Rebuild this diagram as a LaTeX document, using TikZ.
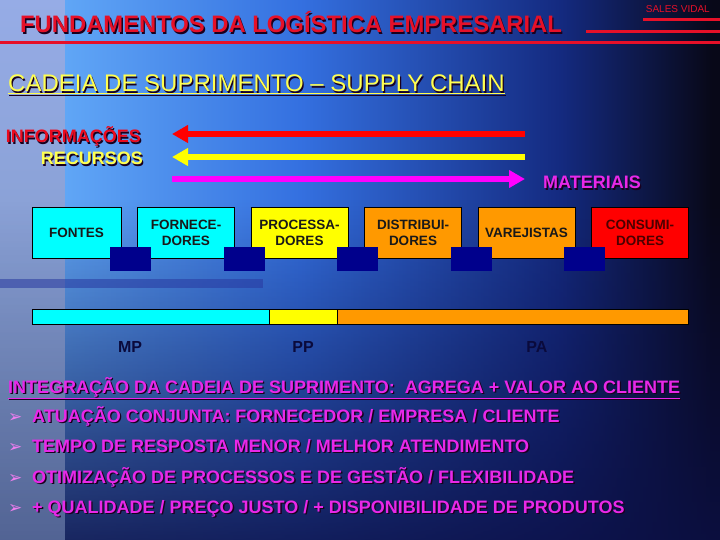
\documentclass[tikz,border=0pt]{standalone}
\usepackage{fontspec}
\setmainfont{Liberation Sans}
\newfontfamily\symfont{DejaVu Sans}
\usepackage{tikz}
\usetikzlibrary{calc, positioning, arrows.meta, fadings}
\usepackage{xcolor}
\definecolor{bgPanel}{RGB}{150, 172, 230}
\definecolor{bgPanelLow}{RGB}{120, 145, 190}
\definecolor{bgA}{RGB}{96, 166, 246}
\definecolor{bgB}{RGB}{52, 112, 224}
\definecolor{bgC}{RGB}{20, 42, 128}
\definecolor{bgD}{RGB}{8, 8, 24}
\definecolor{bgLow}{RGB}{12, 16, 70}
\definecolor{bandC}{RGB}{40, 56, 160}
\definecolor{titleRed}{RGB}{230, 16, 40}
\definecolor{shadowC}{RGB}{25, 0, 30}
\definecolor{capYellow}{RGB}{255, 255, 80}
\definecolor{infoRed}{RGB}{235, 10, 30}
\definecolor{textMagenta}{RGB}{232, 40, 232}
\definecolor{flowRed}{RGB}{255, 0, 0}
\definecolor{flowYellow}{RGB}{255, 255, 0}
\definecolor{flowMagenta}{RGB}{255, 0, 255}
\definecolor{boxCyan}{RGB}{0, 255, 255}
\definecolor{boxYellow}{RGB}{255, 255, 0}
\definecolor{boxOrange}{RGB}{255, 153, 0}
\definecolor{boxRed}{RGB}{255, 0, 0}
\definecolor{linkNavy}{RGB}{0, 0, 140}
\definecolor{labelNavy}{RGB}{10, 10, 60}
\newcommand{\shadowed}[2]{\rlap{\kern1.3pt\raisebox{-1.3pt}{\textcolor{shadowC}{#2}}}\textcolor{#1}{#2}}
\newcommand{\fsz}[1]{\fontsize{#1}{#1}\selectfont}

\begin{document}
\begin{tikzpicture}[x=1pt, y=-1pt, >=Stealth,
    box/.style={draw=black, line width=0.8pt, minimum width=97pt, minimum height=51pt,
                inner sep=0pt, outer sep=0pt, align=center,
                font=\fontsize{13.5}{16}\selectfont\bfseries, text=black!90},
    link/.style={fill=linkNavy, minimum width=41pt, minimum height=24pt, inner sep=0pt,
                 outer sep=0pt, anchor=north west},
    seg/.style={draw=black, line width=0.8pt, minimum height=15pt, inner sep=0pt, outer sep=0pt},
    stage/.style={anchor=base, inner sep=0pt, text=labelNavy, font=\fsz{16}\bfseries},
    flow/.style={line width=6pt, -{Triangle[length=16pt, width=17pt]}},
    rule/.style={titleRed, line width=3pt},
    bullet/.style={anchor=base west, inner sep=0pt, font=\fsz{17}\symfont, text=textMagenta!60!white},
    item/.style={anchor=base west, inner sep=0pt, font=\fsz{18}\bfseries}]

  % background
  \useasboundingbox (0,0) rectangle (720,540);
  \shade[top color=bgPanel, bottom color=bgPanelLow] (0,0) rectangle (65,540);
  \shade[left color=bgA, right color=bgB] (65,0) rectangle (300,540);
  \shade[left color=bgB, right color=bgC] (300,0) rectangle (560,540);
  \shade[left color=bgC, right color=bgD] (560,0) rectangle (712,540);
  \fill[bgD] (712,0) rectangle (720,540);
  \fill[bgLow, path fading=north, fill opacity=0.85] (65,200) rectangle (720,540);
  \fill[bgLow, path fading=north, fill opacity=0.35] (0,200) rectangle (65,540);
  \fill[bandC, fill opacity=0.55] (0,279) rectangle (263,288);

  % header
  \draw[rule] (0,43) -- (720,43);
  \draw[rule] (586,32) -- (720,32);
  \draw[rule] (643,20) -- (720,20);
  \node[anchor=base west, inner sep=0pt, font=\fsz{23.8}\bfseries] (title) at (20,33)
    {\shadowed{titleRed}{FUNDAMENTOS DA LOGÍSTICA EMPRESARIAL}};
  \node[anchor=base east, inner sep=0pt, font=\fsz{10}, text=titleRed] (author) at (710,13)
    {SALES VIDAL};
  \node[anchor=base west, inner sep=0pt, font=\fsz{24}] (chain) at (8,92)
    {\shadowed{capYellow}{\underline{CADEIA DE SUPRIMENTO – SUPPLY CHAIN}}};

  % flows
  \node[anchor=base east, inner sep=0pt, font=\fsz{18}\bfseries] (info) at (141,143)
    {\shadowed{infoRed}{INFORMAÇÕES}};
  \node[anchor=base east, inner sep=0pt, font=\fsz{18}\bfseries] (rec) at (143,165)
    {\shadowed{capYellow}{RECURSOS}};
  \node[anchor=base west, inner sep=0pt, font=\fsz{18}\bfseries] (mat) at (543,189)
    {\shadowed{textMagenta}{MATERIAIS}};
  \coordinate (infoR) at (525,134);
  \coordinate (infoL) at (172,134);
  \coordinate (recR) at (525,157);
  \coordinate (recL) at (172,157);
  \coordinate (matL) at (172,179);
  \coordinate (matR) at (525,179);
  \draw[flow, flowRed] (infoR) -- (infoL);
  \draw[flow, flowYellow] (recR) -- (recL);
  \draw[flow, flowMagenta] (matL) -- (matR);

  % chain
  \node[box, fill=boxCyan, minimum width=89pt, anchor=north west] (fontes) at (32,207) {FONTES};
  \node[box, fill=boxCyan, right=16.5pt of fontes] (fornec) {FORNECE-\\DORES};
  \node[box, fill=boxYellow, right=16.5pt of fornec] (proc) {PROCESSA-\\DORES};
  \node[box, fill=boxOrange, right=16.5pt of proc] (distr) {DISTRIBUI-\\DORES};
  \node[box, fill=boxOrange, right=16.5pt of distr] (varej) {VAREJISTAS};
  \node[box, fill=boxRed, text=black!70!red, right=16.5pt of varej] (consum) {CONSUMI-\\DORES};
  \foreach \b [count=\i] in {fontes, fornec, proc, distr, varej}
    \node[link] (link\i) at ($(\b.south east)+(-11,-11)$) {};

  % stages
  \node[seg, fill=boxCyan, minimum width=237pt, anchor=north west] (segMP) at (32,309) {};
  \node[seg, fill=boxYellow, minimum width=68pt, right=0pt of segMP] (segPP) {};
  \node[seg, fill=boxOrange, minimum width=351pt, right=0pt of segPP] (segPA) {};
  \node[stage] (mp) at (130,352) {MP};
  \node[stage] (pp) at (303,352) {PP};
  \node[stage] (pa) at (537,352) {PA};

  % integration
  \node[item] (integ) at (8,393)
    {\shadowed{textMagenta}{\underline{INTEGRAÇÃO DA CADEIA DE SUPRIMENTO:\ \ AGREGA + VALOR AO CLIENTE}}};
  \foreach \y/\t [count=\i] in {422/{ATUAÇÃO CONJUNTA: FORNECEDOR / EMPRESA / CLIENTE},
                               452/{TEMPO DE RESPOSTA MENOR / MELHOR ATENDIMENTO},
                               483/{OTIMIZAÇÃO DE PROCESSOS E DE GESTÃO / FLEXIBILIDADE},
                               513/{+ QUALIDADE / PREÇO JUSTO / + DISPONIBILIDADE DE PRODUTOS}} {
    \node[bullet] (bul\i) at (8,\y) {➢};
    \node[item] (item\i) at (32,\y) {\shadowed{textMagenta}{\t}};
  }
\end{tikzpicture}
\end{document}
